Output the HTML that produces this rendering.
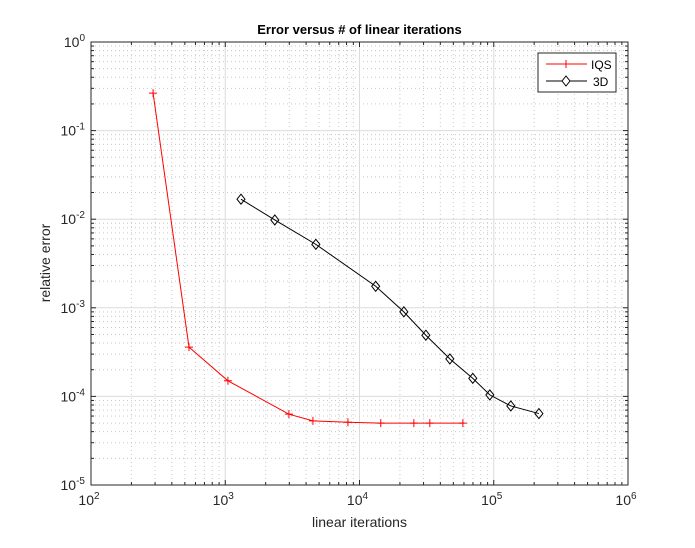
<!DOCTYPE html>
<html><head><meta charset="utf-8"><style>
body{margin:0;background:#fff;}
svg text{font-family:"Liberation Sans",sans-serif;}
</style></head><body>
<svg id="chart" width="695" height="543" xmlns="http://www.w3.org/2000/svg">
<rect width="695" height="543" fill="#fff"/>
<g id="grid"></g>
<g id="ticks"></g>
<g id="series"></g>
<rect x="91" y="42" width="537" height="443" fill="none" stroke="#262626" stroke-width="1"/>
<text x="359.5" y="34" text-anchor="middle" font-size="13" font-weight="bold" fill="#000">Error versus # of linear iterations</text>
<text x="359.5" y="527" text-anchor="middle" font-size="14" fill="#262626">linear iterations</text>
<text transform="translate(50,263) rotate(-90)" text-anchor="middle" font-size="14" fill="#262626">relative error</text>
<g>
<rect x="538" y="53" width="78" height="39" fill="#fff" stroke="#262626"/>
<g>
<line x1="546" y1="64" x2="587" y2="64" stroke="#f00"/>
<path d="M562,64h8M566,60v8" stroke="#f00"/>
<text x="591" y="69" font-size="12" fill="#000">IQS</text>
</g>
<g>
<line x1="546" y1="81" x2="587" y2="81" stroke="#000"/>
<path d="M566,76l4,5l-4,5l-4,-5z" fill="#fff" stroke="#000"/>
<text x="593" y="86" font-size="12" fill="#000">3D</text>
</g>
</g>
</svg>
<script>
const iqsX=[290,537,1047,2980,4500,8200,14400,25400,33400,58900];
const iqsY=[0.265,3.6e-4,1.5e-4,6.3e-5,5.3e-5,5.1e-5,5.0e-5,5.0e-5,5.0e-5,5.0e-5];
const d3X=[1310,2340,4730,13200,21400,31200,47100,69800,93500,134000,217000];
const d3Y=[0.0168,0.0098,0.0052,0.00175,9.0e-4,4.9e-4,2.65e-4,1.6e-4,1.04e-4,7.8e-5,6.4e-5];
const xDecades=[2,3,4,5,6];
const yDecades=[0,-1,-2,-3,-4,-5];
const NS="http://www.w3.org/2000/svg";
const L=91,R=628,T=42,B=485;
function sx(v){return L+(Math.log10(v)-2)/4*(R-L);}
function sy(v){return T+(0-Math.log10(v))/5*(B-T);}
function mk(tag,attrs,parent){const e=document.createElementNS(NS,tag);for(const k in attrs)e.setAttribute(k,attrs[k]);parent.appendChild(e);return e;}
const grid=document.getElementById('grid'),ticks=document.getElementById('ticks'),series=document.getElementById('series');
for(let d=2;d<6;d++){for(let m=2;m<10;m++){const x=sx(m*Math.pow(10,d));
 const g=mk('line',{x1:x,x2:x,y1:T,y2:B,stroke:'#c8c8c8','stroke-dasharray':'1,3'},grid);
 
 
 mk('line',{x1:x,x2:x,y1:B,y2:B-3,stroke:'#262626'},ticks);mk('line',{x1:x,x2:x,y1:T,y2:T+3,stroke:'#262626'},ticks);}}
for(let d=-5;d<0;d++){for(let m=2;m<10;m++){const y=sy(m*Math.pow(10,d));
 const g=mk('line',{x1:L,x2:R,y1:y,y2:y,stroke:'#c8c8c8','stroke-dasharray':'1,3'},grid);
 
 
 mk('line',{x1:L,x2:L+3,y1:y,y2:y,stroke:'#262626'},ticks);mk('line',{x1:R,x2:R-3,y1:y,y2:y,stroke:'#262626'},ticks);}}
xDecades.forEach(d=>{const x=sx(Math.pow(10,d));
 const g=mk('line',{x1:x,x2:x,y1:T,y2:B,stroke:'#dcdcdc'},grid);
 
 
 mk('line',{x1:x,x2:x,y1:B,y2:B-5,stroke:'#262626'},ticks);mk('line',{x1:x,x2:x,y1:T,y2:T+5,stroke:'#262626'},ticks);
 const t=mk('text',{x:x-2,y:B+20,'text-anchor':'middle','font-size':'14',fill:'#262626'},ticks);
 
 
 t.innerHTML='10<tspan dy="-6" font-size="10">'+d+'</tspan>';});
yDecades.forEach(d=>{const y=sy(Math.pow(10,d));
 const g=mk('line',{x1:L,x2:R,y1:y,y2:y,stroke:'#dcdcdc'},grid);
 
 
 mk('line',{x1:L,x2:L+5,y1:y,y2:y,stroke:'#262626'},ticks);mk('line',{x1:R,x2:R-5,y1:y,y2:y,stroke:'#262626'},ticks);
 const t=mk('text',{x:L-6,y:y+5,'text-anchor':'end','font-size':'14',fill:'#262626'},ticks);
 
 
 t.innerHTML='10<tspan dy="-6" font-size="10">'+d+'</tspan>';});
function drawSeries(xs,ys,color,name,marker){
 const pts=xs.map((v,i)=>sx(v)+','+sy(ys[i])).join(' ');
 const pl=mk('polyline',{points:pts,fill:'none',stroke:color,'stroke-width':1},series);
 
 
 xs.forEach((v,i)=>{const x=sx(v),y=sy(ys[i]);let m;
  if(marker==='plus')m=mk('path',{d:`M${x-4},${y}h8M${x},${y-4}v8`,stroke:color,fill:'none'},series);
  else m=mk('path',{d:`M${x},${y-5}l4,5l-4,5l-4,-5z`,stroke:color,fill:'none'},series);
  
  });}
drawSeries(iqsX,iqsY,'#f00','iqs','plus');
drawSeries(d3X,d3Y,'#000','3d','diamond');
</script>
</body></html>
